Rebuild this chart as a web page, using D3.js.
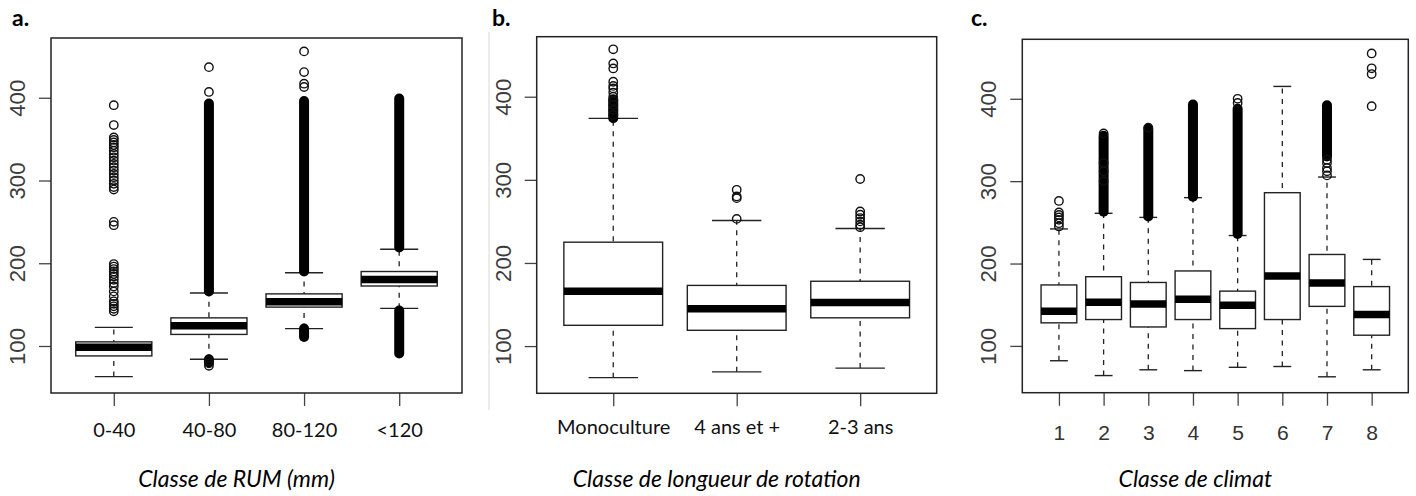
<!DOCTYPE html>
<html>
<head>
<meta charset="utf-8">
<script src="https://cdn.jsdelivr.net/npm/d3@7"></script>
<style>
  body { margin: 0; background: #fff; }
  svg { display: block; }
</style>
</head>
<body>
<div id="chart"></div>
<script>
// ---- data ----
// stats per group: [lower whisker, Q1, median, Q3, upper whisker]
var yTicks = [100, 200, 300, 400];

var rumCats = ["0-40", "40-80", "80-120", "<120"];
var rumStats = [
  [63, 88, 98.5, 105, 122.5],
  [84, 114, 124.5, 134, 164],
  [121, 147, 153.5, 163, 188.5],
  [145.5, 172.5, 180.5, 190, 217]
];
var rumOutliers = [
  [142, 145, 148, 151, 154, 160, 166, 172, 176, 180, 184, 187, 190, 193, 196, 199,
   246, 250, 289, 292, 296, 300, 304, 308, 312, 316, 320, 324, 328, 332, 336, 340, 343, 346, 349, 352, 367, 391],
  [82, 79, 76, 407, 437],
  [413, 417, 431, 456],
  []
];
// ranges where the outlier circles overlap into a solid column
var rumDense = [
  [],
  [[166, 393], [80, 84]],
  [[190, 396], [111, 121]],
  [[219, 399], [91, 143]]
];

var rotCats = ["Monoculture", "4 ans et +", "2-3 ans"];
var rotStats = [
  [62, 125, 166, 225, 374],
  [69, 119, 145, 173, 251],
  [73.5, 134, 152.5, 178, 241.5]
];
var rotOutliers = [
  [378, 384, 390, 395, 400, 405, 410, 413, 418, 434, 440, 457],
  [253, 278, 280, 288],
  [243, 246, 250, 254, 258, 262, 301]
];
var rotDense = [[[374, 397]], [], []];

var climCats = ["1", "2", "3", "4", "5", "6", "7", "8"];
var climStats = [
  [82, 128, 142, 174, 242],
  [64, 132, 153, 184, 261],
  [71, 123, 151, 177, 256],
  [70, 132, 156.5, 191, 280],
  [74, 121, 149.5, 166.5, 234],
  [75, 132, 185, 286, 415],
  [62.5, 148, 176.5, 211, 305],
  [71, 113, 138, 172, 205]
];
var climOutliers = [
  [245, 249, 253, 256, 259, 262, 276],
  [300, 312, 322, 358],
  [365],
  [],
  [395, 400],
  [],
  [307, 312, 316, 322, 326],
  [391, 430, 437, 455]
];
var climDense = [
  [],
  [[263, 355]],
  [[257, 364]],
  [[281, 393]],
  [[236, 388]],
  [],
  [[330, 392]],
  []
];

// ---- layout ----
var width = 1416, height = 496;
var armFont = "'Liberation Sans', Arimo, Arial, Helvetica, sans-serif";
var calFont = "Lato, 'Open Sans', sans-serif";

var panels = [
  { letter: "a.", lx: 12, title: "Classe de RUM (mm)", cats: rumCats, stats: rumStats, out: rumOutliers, dense: rumDense,
    left: 51, right: 462, top: 38, bottom: 393, labelFont: calFont, labelSize: 20, labelDy: 44, labelColor: "#111" },
  { letter: "b.", lx: 492, title: "Classe de longueur de rotation", cats: rotCats, stats: rotStats, out: rotOutliers, dense: rotDense,
    left: 536.7, right: 936.7, top: 36.7, bottom: 393.3, labelFont: calFont, labelSize: 20, labelDy: 41, labelColor: "#111" },
  { letter: "c.", lx: 971, title: "Classe de climat", cats: climCats, stats: climStats, out: climOutliers, dense: climDense,
    left: 1022.3, right: 1408.3, top: 39.3, bottom: 392.7, labelFont: armFont, labelSize: 0, labelDy: 47, labelColor: "#333" }
];

var svg = d3.select("#chart")
  .append("svg")
  .attr("width", width)
  .attr("height", height);

// size the y labels so "400" is about 37px long, like the figure
var probe = svg.append("text")
  .attr("font-family", armFont)
  .attr("font-size", 20)
  .text("400");
var yLabelSize = 20 * 37 / probe.node().getComputedTextLength();
probe.remove();

// thin grey rule between panel a and b
svg.append("line")
  .attr("x1", 489).attr("x2", 489)
  .attr("y1", 32).attr("y2", 410)
  .attr("stroke", "#d8d8d8")
  .attr("stroke-width", 1);

panels.forEach(function(p) {
  var n = p.cats.length;

  var xScale = d3.scalePoint()
    .domain(p.cats)
    .range([p.left, p.right])
    .padding(0.5 + 0.04 * n);

  var yScale = d3.scaleLinear()
    .domain([43.2, 472.2])
    .range([p.bottom, p.top]);

  var bw = xScale.step() * 0.8;
  var g = svg.append("g");

  // y axis
  var yAxis = d3.axisLeft(yScale)
    .tickValues(yTicks)
    .tickSize(12)
    .tickSizeOuter(0)
    .tickFormat(d3.format("d"));

  var ya = g.append("g")
    .attr("transform", "translate(" + p.left + ",0)")
    .call(yAxis);
  ya.select(".domain").remove();
  ya.selectAll(".tick line").attr("stroke", "#444").attr("stroke-width", 1.3);
  ya.selectAll(".tick text")
    .attr("x", 0).attr("y", 0).attr("dy", 0)
    .attr("transform", "translate(-26,0) rotate(-90)")
    .attr("text-anchor", "middle")
    .attr("fill", "#3c3c3c")
    .attr("font-family", armFont)
    .attr("font-size", yLabelSize);

  // x axis
  var xAxis = d3.axisBottom(xScale)
    .tickSize(13)
    .tickSizeOuter(0);

  var xa = g.append("g")
    .attr("transform", "translate(0," + p.bottom + ")")
    .call(xAxis);
  xa.select(".domain").remove();
  xa.selectAll(".tick line").attr("stroke", "#444").attr("stroke-width", 1.3);
  xa.selectAll(".tick text")
    .attr("y", p.labelDy).attr("dy", 0)
    .attr("fill", p.labelColor)
    .attr("font-family", p.labelFont)
    .attr("font-size", p.labelSize || yLabelSize * 0.95);

  var groups = g.selectAll(".grp")
    .data(p.cats)
    .enter()
    .append("g")
    .attr("class", "grp");

  // dashed whiskers
  groups.append("line")
    .attr("x1", function(d) { return xScale(d); })
    .attr("x2", function(d) { return xScale(d); })
    .attr("y1", function(d, i) { return yScale(p.stats[i][0]); })
    .attr("y2", function(d, i) { return yScale(p.stats[i][4]); })
    .attr("stroke", "#222")
    .attr("stroke-width", 1.3)
    .attr("stroke-dasharray", "5,5.5");

  // staples
  [0, 4].forEach(function(k) {
    groups.append("line")
      .attr("x1", function(d) { return xScale(d) - bw / 4; })
      .attr("x2", function(d) { return xScale(d) + bw / 4; })
      .attr("y1", function(d, i) { return yScale(p.stats[i][k]); })
      .attr("y2", function(d, i) { return yScale(p.stats[i][k]); })
      .attr("stroke", "#222")
      .attr("stroke-width", 1.4);
  });

  // boxes
  groups.append("rect")
    .attr("x", function(d) { return xScale(d) - bw / 2; })
    .attr("width", bw)
    .attr("y", function(d, i) { return yScale(p.stats[i][3]); })
    .attr("height", function(d, i) { return yScale(p.stats[i][1]) - yScale(p.stats[i][3]); })
    .attr("fill", "#fff")
    .attr("stroke", "#222")
    .attr("stroke-width", 1.4);

  // medians
  groups.append("line")
    .attr("x1", function(d) { return xScale(d) - bw / 2; })
    .attr("x2", function(d) { return xScale(d) + bw / 2; })
    .attr("y1", function(d, i) { return yScale(p.stats[i][2]); })
    .attr("y2", function(d, i) { return yScale(p.stats[i][2]); })
    .attr("stroke", "#000")
    .attr("stroke-width", 7.5);

  // outliers: dense columns, then single circles
  groups.each(function(d, i) {
    d3.select(this).selectAll(".dense")
      .data(p.dense[i])
      .enter()
      .append("line")
      .attr("x1", xScale(d)).attr("x2", xScale(d))
      .attr("y1", function(r) { return yScale(r[0]); })
      .attr("y2", function(r) { return yScale(r[1]); })
      .attr("stroke", "#000")
      .attr("stroke-width", 10)
      .attr("stroke-linecap", "round");

    d3.select(this).selectAll(".out")
      .data(p.out[i])
      .enter()
      .append("circle")
      .attr("cx", xScale(d))
      .attr("cy", function(v) { return yScale(v); })
      .attr("r", 4.2)
      .attr("fill", "none")
      .attr("stroke", "#111")
      .attr("stroke-width", 1.4);
  });

  // plot frame
  g.append("rect")
    .attr("x", p.left).attr("y", p.top)
    .attr("width", p.right - p.left)
    .attr("height", p.bottom - p.top)
    .attr("fill", "none")
    .attr("stroke", "#222")
    .attr("stroke-width", 1.5);

  // panel letter
  g.append("text")
    .attr("x", p.lx).attr("y", 26)
    .attr("font-family", calFont)
    .attr("font-weight", "bold")
    .attr("font-size", 23)
    .text(p.letter);

  // axis title
  g.append("text")
    .attr("x", (p.left + p.right) / 2 - 20)
    .attr("y", 487)
    .attr("text-anchor", "middle")
    .attr("font-family", calFont)
    .attr("font-style", "italic")
    .attr("font-size", 23)
    .text(p.title);
});
</script>
</body>
</html>
